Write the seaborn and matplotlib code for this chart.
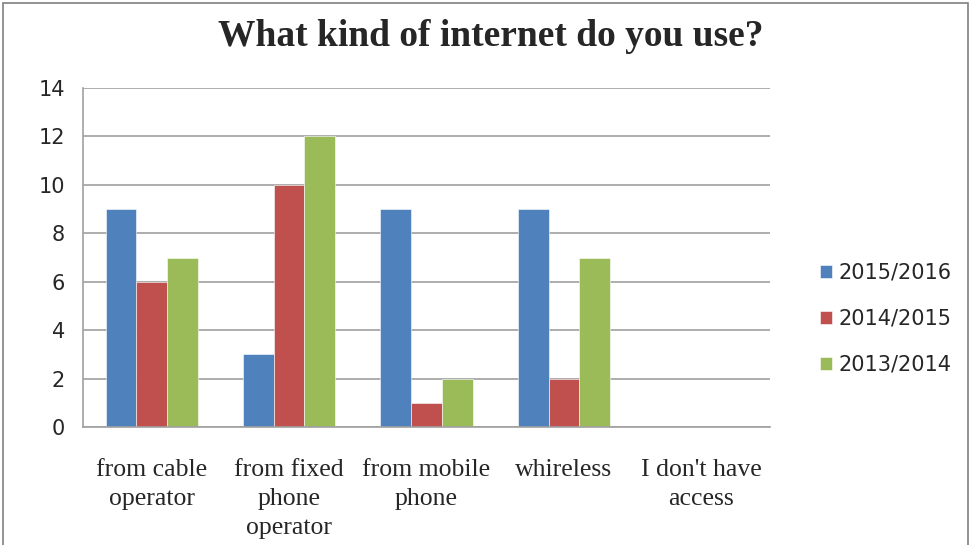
import pandas as pd
import matplotlib.pyplot as plt
import seaborn as sns

# Survey answers per school year
categories = ['from cable\noperator', 'from fixed\nphone\noperator', 'from mobile\nphone',
              'whireless', "I don't have\naccess"]
years = ['2015/2016', '2014/2015', '2013/2014']
vals_2015_2016 = [9, 3, 9, 9, 0]
vals_2014_2015 = [6, 10, 1, 2, 0]
vals_2013_2014 = [7, 12, 2, 7, 0]

colors = ['#4f81bd', '#c0504d', '#9bbb59']

df = pd.DataFrame({
    'category': categories * 3,
    'year': [years[0]] * 5 + [years[1]] * 5 + [years[2]] * 5,
    'count': vals_2015_2016 + vals_2014_2015 + vals_2013_2014,
})

sns.set_style('white')
fig = plt.figure(figsize=(9.71, 5.45), dpi=100)
ax = fig.add_axes([0.0855, 0.2165, 0.7075, 0.622])

sns.barplot(data=df, x='category', y='count', hue='year', hue_order=years,
            palette=colors, width=0.67, saturation=1, ax=ax,
            edgecolor='white', linewidth=0.4)

ax.set_ylim(0, 14)
ax.set_yticks(range(0, 15, 2))
ax.yaxis.grid(True, color='#a0a0a0', linewidth=1.2)
ax.set_axisbelow(True)
for s in ['top', 'right']:
    ax.spines[s].set_visible(False)
ax.spines['left'].set_color('#a0a0a0')
ax.spines['bottom'].set_color('#a0a0a0')
ax.spines['left'].set_linewidth(1.2)
ax.spines['bottom'].set_linewidth(1.2)
ax.set_xlabel('')
ax.set_ylabel('')
ax.tick_params(axis='y', labelsize=15, length=0, pad=13)
ax.tick_params(axis='x', length=0, pad=23)
for lbl in ax.get_yticklabels():
    lbl.set_family('DejaVu Sans')
for lbl in ax.get_xticklabels():
    lbl.set_family('Liberation Serif')
    lbl.set_fontsize(18.5)
    lbl.set_linespacing(1.42)

ax.legend(loc='center left', bbox_to_anchor=(1.045, 0.32), frameon=False,
          fontsize=15, handlelength=0.6, handleheight=0.6, handletextpad=0.3,
          labelspacing=1.25)

fig.suptitle('What kind of internet do you use?', x=0.505, y=0.965,
             fontsize=27, fontweight='bold', family='Liberation Serif')

# thin frame round the whole chart
fig.patches.append(plt.Rectangle((0.003, -0.01), 0.994, 1.004, transform=fig.transFigure,
                                 fill=False, edgecolor='#808080', linewidth=1.2))

fig.savefig('out.png', dpi=100)
